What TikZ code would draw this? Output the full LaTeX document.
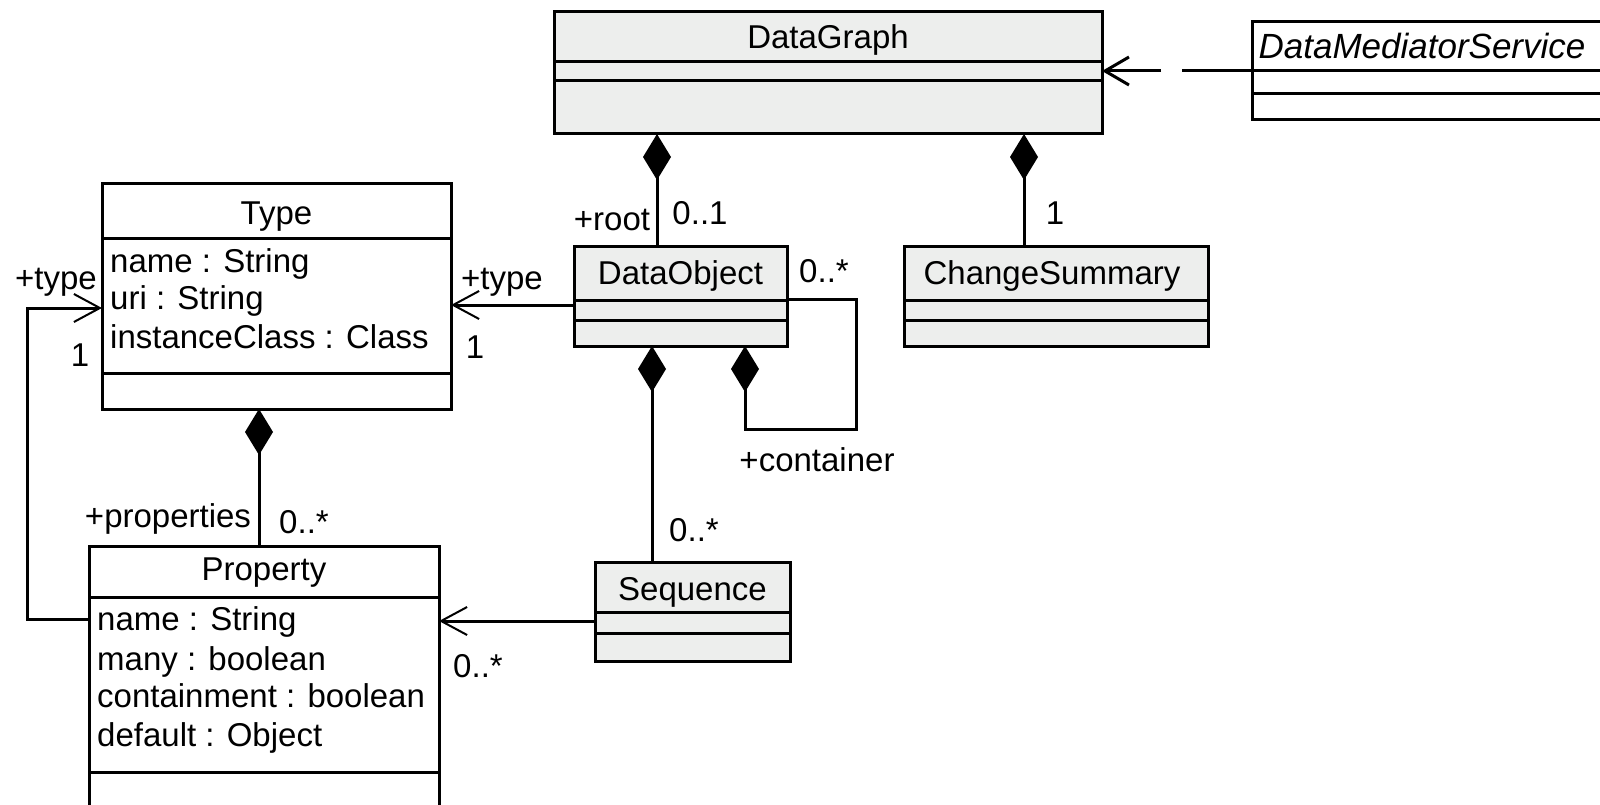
\documentclass[tikz,border=0pt]{standalone}
\usepackage{fontspec}
\setmainfont{Liberation Sans}
\usetikzlibrary{arrows.meta,calc}
\definecolor{boxgray}{RGB}{237,238,237}
\begin{document}
\begin{tikzpicture}[x=1pt,y=-1pt,
  box/.style={draw,line width=3pt,inner sep=0pt,outer sep=0pt},
  gbox/.style={box,fill=boxgray},
  wbox/.style={box,fill=white},
  txt/.style={inner sep=0pt,anchor=base,font=\fontsize{33}{40}\selectfont},
  ltxt/.style={txt,anchor=base west},
  conn/.style={line width=3pt},
  comp/.style={conn,{Diamond[length=46pt,width=28pt]}-},
  nav/.style={conn,-{Straight Barb[length=26pt,width=28pt,line width=2pt]}},
  dep/.style={conn,dash pattern=on 70pt off 21pt,-{Straight Barb[length=24pt,width=28pt,line width=3pt]}},
]
\useasboundingbox (0,0) rectangle (1600,805);

% ---------- boxes ----------
\node[gbox,minimum width=548pt,minimum height=122pt] (dg) at (828,73) {};
\draw[conn] (dg.north west) ++(0,50) -- ++(548,0);
\draw[conn] (dg.north west) ++(0,69) -- ++(548,0);
\node[txt] (dgt) at ($(dg.north)+(0,37)$) {DataGraph};

\node[wbox,minimum width=368pt,minimum height=98pt] (dms) at (1436,71) {};
\draw[conn] (dms.north west) ++(0,49) -- ++(368,0);
\draw[conn] (dms.north west) ++(0,72) -- ++(368,0);
\node[txt,font=\fontsize{35}{42}\selectfont\itshape] (dmst) at (1422,59) {DataMediatorService};

\node[wbox,minimum width=349pt,minimum height=225pt] (type) at (276.5,296.5) {};
\draw[conn] (type.north west) ++(0,54) -- ++(349,0);
\draw[conn] (type.north west) ++(0,189) -- ++(349,0);
\node[txt] (typet) at ($(type.north)+(0,41)$) {Type};
\node[ltxt] (ta1) at (110,272) {name : String};
\node[ltxt] (ta2) at (110,309) {uri : String};
\node[ltxt] (ta3) at (110,348) {instanceClass : Class};

\node[wbox,minimum width=350pt,minimum height=284pt] (prop) at (264,688) {};
\draw[conn] (prop.north west) ++(0,51) -- ++(350,0);
\draw[conn] (prop.north west) ++(0,226) -- ++(350,0);
\node[txt] (propt) at ($(prop.north)+(0,34)$) {Property};
\node[ltxt] (pa1) at (97,630) {name : String};
\node[ltxt] (pa2) at (97,670) {many : boolean};
\node[ltxt] (pa3) at (97,707) {containment : boolean};
\node[ltxt] (pa4) at (97,746) {default : Object};

\node[gbox,minimum width=213pt,minimum height=100pt] (do) at (680.5,296) {};
\draw[conn] (do.north west) ++(0,54) -- ++(213,0);
\draw[conn] (do.north west) ++(0,74) -- ++(213,0);
\node[txt] (dot) at ($(do.north)+(0,38)$) {DataObject};

\node[gbox,minimum width=304pt,minimum height=100pt] (cs) at (1056,296) {};
\draw[conn] (cs.north west) ++(0,54) -- ++(304,0);
\draw[conn] (cs.north west) ++(0,74) -- ++(304,0);
\node[txt] (cst) at ($(cs.north)+(-4,38)$) {ChangeSummary};

\node[gbox,minimum width=195pt,minimum height=99pt] (seq) at (692.5,611.5) {};
\draw[conn] (seq.north west) ++(0,50) -- ++(195,0);
\draw[conn] (seq.north west) ++(0,71) -- ++(195,0);
\node[txt] (seqt) at ($(seq.north)+(0,38)$) {Sequence};

% ---------- guide coordinates ----------
\coordinate (xa) at (657,0);
\coordinate (xb) at (1024,0);
\coordinate (xc) at (259,0);
\coordinate (xd) at (652,0);
\coordinate (xe) at (745,0);
\coordinate (loopc) at (856,429);
\coordinate (ye) at (0,299);
\coordinate (ya) at (0,305);
\coordinate (yb) at (0,619);
\coordinate (lp) at (27,308);
\coordinate (yc) at (0,621);
\coordinate (yd) at (0,71);

% ---------- connectors ----------
\draw[comp] (dg.south -| xa) -- (do.north -| xa);
\draw[comp] (dg.south -| xb) -- (cs.north -| xb);
\draw[comp] (type.south -| xc) -- (prop.north -| xc);
\draw[comp] (do.south -| xd) -- (seq.north -| xd);
\draw[comp] (do.south -| xe) |- (loopc) |- (do.east |- ye);
\draw[nav] (do.west |- ya) -- (type.east |- ya);
\draw[nav] (prop.west |- yb) -| (lp) -- (type.west |- lp);
\draw[nav] (seq.west |- yc) -- (prop.east |- yc);
\draw[dep] (dms.west |- yd) -- (dg.east |- yd);

% ---------- labels ----------
\node[txt] (l1) at (612,230) {+root};
\node[txt] (l2) at (700,225) {0..1};
\node[txt] (l3) at (1055,225) {1};
\node[txt] (l4) at (502,289) {+type};
\node[txt] (l5) at (475,358) {1};
\node[txt] (l6) at (56,289) {+type};
\node[txt] (l7) at (80,366) {1};
\node[txt] (l8) at (168,527) {+properties};
\node[txt] (l9) at (304,533) {0..*};
\node[txt] (l10) at (694,541) {0..*};
\node[txt] (l11) at (824,282) {0..*};
\node[txt] (l12) at (817,471) {+container};
\node[txt] (l13) at (478,677) {0..*};
\end{tikzpicture}
\end{document}
